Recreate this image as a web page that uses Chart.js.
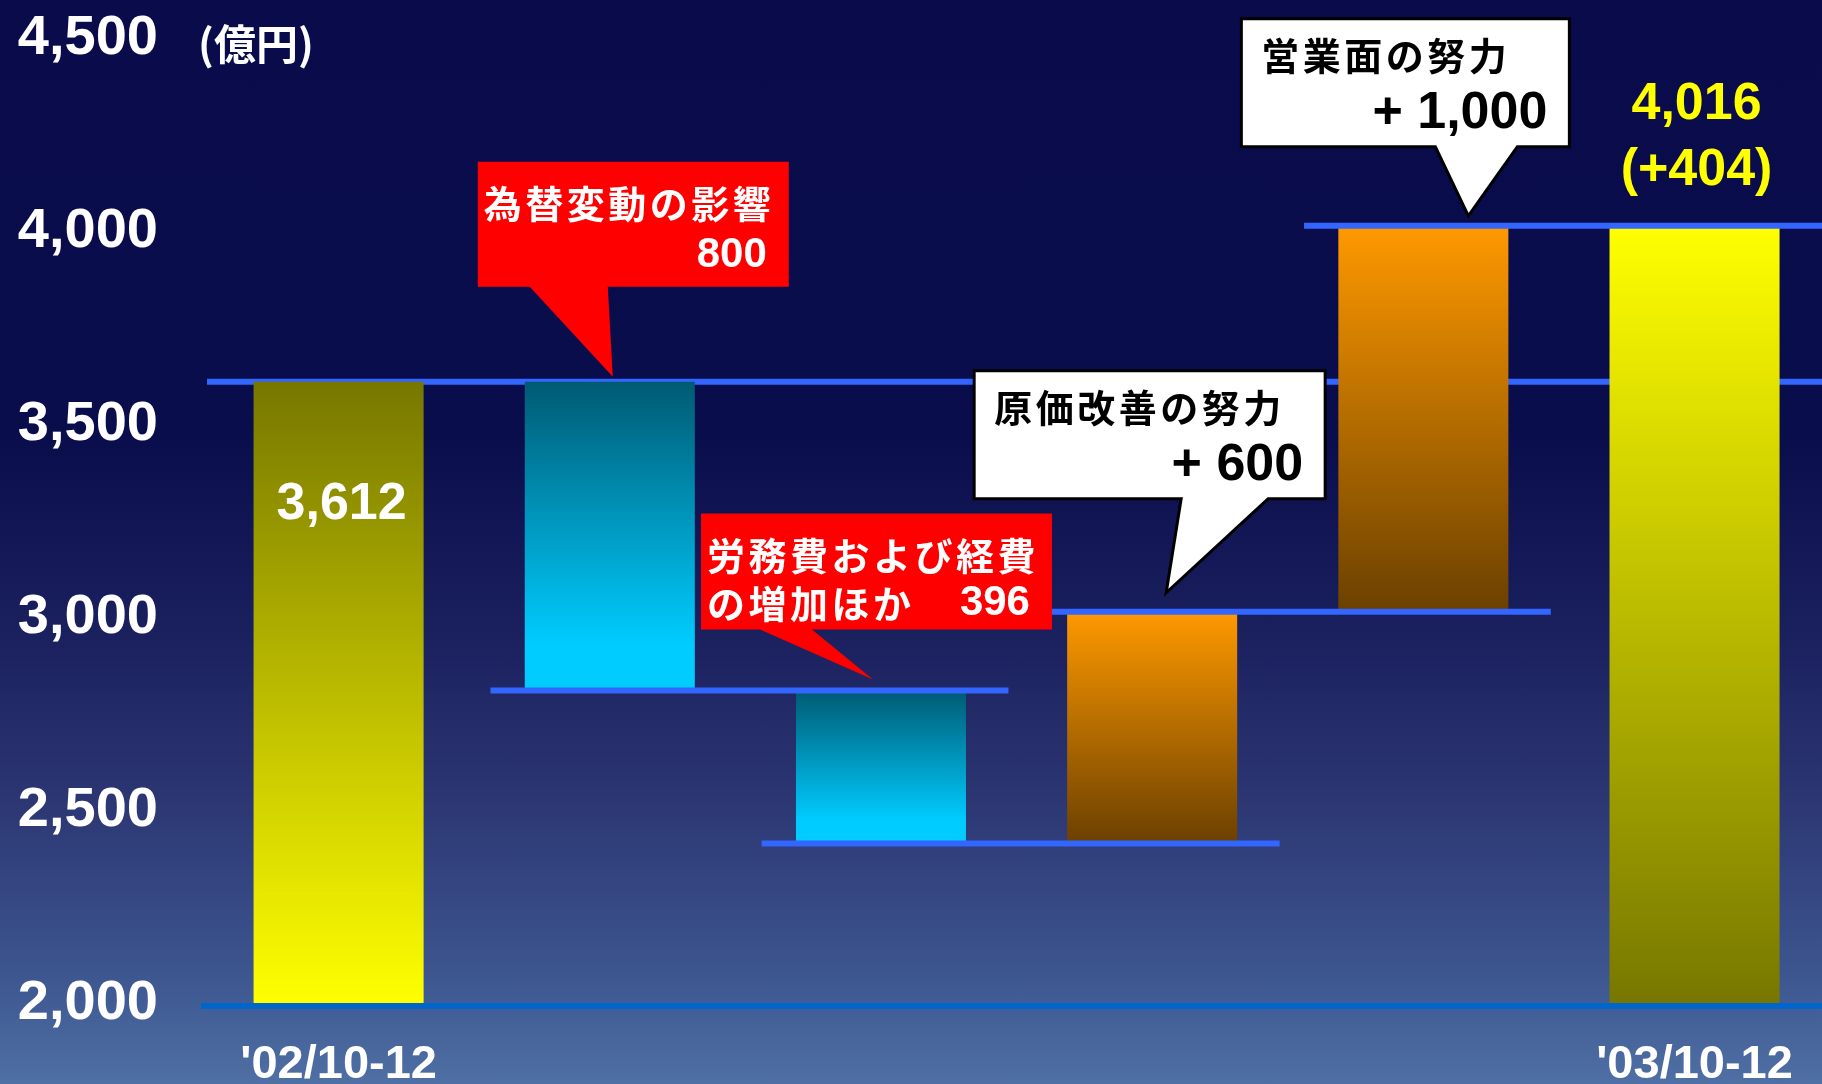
<!DOCTYPE html>
<html lang="ja">
<head>
<meta charset="utf-8">
<title>営業利益の増減要因</title>
<script src="https://cdn.jsdelivr.net/npm/chart.js@4.4.1/dist/chart.umd.min.js"></script>
<style>
  html, body { margin: 0; padding: 0; overflow: hidden; }
  body {
    width: 1822px;
    height: 1084px;
    background: linear-gradient(to bottom, #090b4a 0%, #0a0d4c 40%, #1a1f5e 58%, #2b3572 73%, #3d5690 90%, #4f70a4 100%);
  }
  #wrap { position: relative; width: 1822px; height: 1084px; }
</style>
</head>
<body>
<div id="wrap"><canvas id="chart_waterfall"></canvas></div>
<script>
const canvasWaterfall = document.getElementById('chart_waterfall');

/* DATA */
const CATEGORIES = ["'02/10-12", '為替変動の影響', '労務費および経費の増加ほか', '原価改善の努力', '営業面の努力', "'03/10-12"];
const BAR_FROM = [2000, 3612, 2812, 2416, 3016, 2000];
const BAR_TO   = [3612, 2812, 2416, 3016, 4016, 4016];
const Y_TICKS = [2000, 2500, 3000, 3500, 4000, 4500];
const X_TICKS = [0, 5];
const CALLOUT_TITLES = [null, ['為替変動の影響'], ['労務費および経費', 'の増加ほか'], ['原価改善の努力'], ['営業面の努力'], null];
const UNIT_LABEL = '(億円)';

/* STYLE */
const NUM_FONT = '"Liberation Sans", Arial, sans-serif';
const JP_FONT = '"Noto Sans CJK JP", "Noto Sans CJK SC", sans-serif';
const LINE_BLUE = '#3366ff';
const BASE_BLUE = '#0066cc';

const GRADIENTS = [
    [[0, '#777700'], [1, '#ffff00']],
    [[0, '#005a73'], [0.85, '#00ccff'], [1, '#00ccff']],
    [[0, '#005a73'], [0.85, '#00ccff'], [1, '#00ccff']],
    [[0, '#ff9900'], [1, '#6b4000']],
    [[0, '#ff9900'], [1, '#6b4000']],
    [[0, '#ffff00'], [1, '#777700']]
];

// callout box geometry, relative to the top centre of its bar
const CALLOUT_BOX = {
    1: {l: -132, r: 179, t: -220, b: -95, b1: -80, b2: -2, px: 3, py: -5, fill: '#ff0000', stroke: null, text: '#ffffff'},
    2: {l: -180, r: 171, t: -177, b: -61, b1: -121, b2: -69, px: -8, py: -11, fill: '#ff0000', stroke: null, text: '#ffffff'},
    3: {l: -178, r: 173, t: -241, b: -113, b1: 29, b2: 116, px: 14, py: -19, fill: '#ffffff', stroke: '#000000', text: '#000000'},
    4: {l: -182, r: 146, t: -207, b: -79, b1: 12, b2: 94, px: 45, py: -10, fill: '#ffffff', stroke: '#000000', text: '#000000'}
};

const fmt = (v) => v.toLocaleString('en-US');

function sharedLevel(i) {
    const a = [BAR_FROM[i], BAR_TO[i]];
    const b = [BAR_FROM[i + 1], BAR_TO[i + 1]];
    return a.find(v => v !== 2000 && b.includes(v));
}

function hline(ctx, x1, x2, y) {
    ctx.beginPath();
    ctx.moveTo(x1, y);
    ctx.lineTo(x2, y);
    ctx.stroke();
}

function drawCallout(ctx, tx, ty, g) {
    ctx.beginPath();
    ctx.moveTo(tx + g.l, ty + g.t);
    ctx.lineTo(tx + g.r, ty + g.t);
    ctx.lineTo(tx + g.r, ty + g.b);
    ctx.lineTo(tx + g.b2, ty + g.b);
    ctx.lineTo(tx + g.px, ty + g.py);
    ctx.lineTo(tx + g.b1, ty + g.b);
    ctx.lineTo(tx + g.l, ty + g.b);
    ctx.closePath();
    ctx.fillStyle = g.fill;
    ctx.fill();
    if (g.stroke) {
        ctx.lineWidth = 3;
        ctx.strokeStyle = g.stroke;
        ctx.stroke();
    }
}

const waterfallDecor = {
    id: 'waterfallDecor',
    beforeDatasetsDraw(chart) {
        const {ctx, chartArea, scales: {y}} = chart;
        ctx.save();
        ctx.lineWidth = 6;
        ctx.strokeStyle = LINE_BLUE;
        hline(ctx, chartArea.left + 4, chartArea.right, y.getPixelForValue(sharedLevel(0)));
        ctx.restore();
    },
    afterDatasetsDraw(chart) {
        const {ctx, chartArea, scales: {x, y}} = chart;
        ctx.save();

        /* connector lines */
        ctx.lineWidth = 6;
        ctx.strokeStyle = LINE_BLUE;
        for (let i = 1; i < CATEGORIES.length - 1; i++) {
            const py = y.getPixelForValue(sharedLevel(i));
            const x1 = x.getPixelForValue(i - 0.44);
            const x2 = i === CATEGORIES.length - 2 ? chartArea.right : x.getPixelForValue(i + 1.47);
            hline(ctx, x1, x2, py);
        }
        ctx.strokeStyle = BASE_BLUE;
        hline(ctx, chartArea.left - 2, chartArea.right, y.getPixelForValue(y.min) + 2);

        /* unit */
        ctx.fillStyle = '#ffffff';
        ctx.font = 'bold 42px ' + JP_FONT;
        ctx.textAlign = 'left';
        ctx.textBaseline = 'middle';
        ctx.fillText(UNIT_LABEL, 198, 44);

        /* start / end values */
        const last = CATEGORIES.length - 1;
        ctx.font = 'bold 52px ' + NUM_FONT;
        ctx.textAlign = 'center';
        ctx.fillText(fmt(BAR_TO[0]), x.getPixelForValue(0) + 3, y.getPixelForValue(BAR_TO[0]) + 123);
        const topEnd = y.getPixelForValue(BAR_TO[last]);
        const diff = BAR_TO[last] - BAR_TO[0];
        ctx.fillStyle = '#ffff00';
        ctx.fillText(fmt(BAR_TO[last]), x.getPixelForValue(last) + 2, topEnd - 121);
        ctx.fillText('(' + (diff >= 0 ? '+' : '') + fmt(diff) + ')', x.getPixelForValue(last) + 2, topEnd - 55);

        /* callouts */
        Object.keys(CALLOUT_BOX).forEach(k => {
            const i = Number(k);
            const g = CALLOUT_BOX[i];
            const tx = x.getPixelForValue(i);
            const ty = y.getPixelForValue(Math.max(BAR_FROM[i], BAR_TO[i]));
            drawCallout(ctx, tx, ty, g);

            const change = BAR_TO[i] - BAR_FROM[i];
            const changeText = change > 0 ? '+ ' + fmt(change) : fmt(-change);
            const titles = CALLOUT_TITLES[i];
            const left = tx + g.l + (g.stroke ? 20 : 6);
            const top = ty + g.t;
            const titleY = g.stroke ? 37 : 42;
            ctx.fillStyle = g.text;
            ctx.textBaseline = 'middle';
            ctx.textAlign = 'left';
            ctx.font = 'bold 38px ' + JP_FONT;
            ctx.letterSpacing = '3.5px';
            titles.forEach((t, n) => ctx.fillText(t, left, top + titleY + n * 48));
            ctx.letterSpacing = '0px';
            ctx.textAlign = 'right';
            if (g.stroke) {
                ctx.font = 'bold 52px ' + NUM_FONT;
                ctx.fillText(changeText, tx + g.r - 22, top + 95);
            } else {
                ctx.font = 'bold 42px ' + NUM_FONT;
                ctx.fillText(changeText, tx + g.r - 22, top + 42 + (titles.length === 1 ? 52 : 48 * (titles.length - 1)));
            }
        });
        ctx.restore();
    }
};

/* Waterfall Chart */
var chartWaterfall = new Chart(canvasWaterfall, {
    type: 'bar',
    data: {
        datasets: [{
            label: '営業利益',
            data: CATEGORIES.map((c, i) => ({x: i, y: [BAR_FROM[i], BAR_TO[i]]})),
            backgroundColor: (c) => {
                const y = c.chart.scales.y;
                if (!y || c.dataIndex === undefined) return '#888800';
                const i = c.dataIndex;
                const top = y.getPixelForValue(Math.max(BAR_FROM[i], BAR_TO[i]));
                const bottom = y.getPixelForValue(Math.min(BAR_FROM[i], BAR_TO[i]));
                if (!isFinite(top) || !isFinite(bottom) || top === bottom) return GRADIENTS[i][0][1];
                const g = c.chart.ctx.createLinearGradient(0, top, 0, bottom);
                GRADIENTS[i].forEach(s => g.addColorStop(s[0], s[1]));
                return g;
            },
            borderWidth: 0,
            categoryPercentage: 1,
            barPercentage: 0.627
        }]
    },
    options: {
        responsive: true,
        maintainAspectRatio: false,
        animation: false,
        layout: {padding: {top: 39, left: 0, right: 0, bottom: 0}},
        plugins: {
            legend: {display: false},
            tooltip: {enabled: false}
        },
        scales: {
            x: {
                type: 'linear',
                offset: false,
                bounds: 'data',
                min: -0.5,
                max: 5.47,
                grid: {display: false, drawTicks: false, offset: false},
                border: {display: false},
                afterDataLimits: (s) => { s.min = -0.5; s.max = 5.47; },
                afterBuildTicks: (s) => { s.ticks = X_TICKS.map(v => ({value: v})); },
                afterFit: (s) => { s.height = 80; s.paddingLeft = 0; s.paddingRight = 0; },
                ticks: {
                    color: '#ffffff',
                    padding: 33,
                    maxRotation: 0,
                    autoSkip: false,
                    font: {family: NUM_FONT, size: 47, weight: 'bold'},
                    callback: (v) => CATEGORIES[v] || ''
                }
            },
            y: {
                min: 2000,
                max: 4500,
                grid: {display: false, drawTicks: false},
                border: {display: false},
                afterBuildTicks: (s) => { s.ticks = Y_TICKS.map(v => ({value: v})); },
                afterFit: (s) => { s.width = 203; s.paddingTop = 0; s.paddingBottom = 0; },
                ticks: {
                    color: '#ffffff',
                    padding: 45,
                    font: {family: NUM_FONT, size: 56, weight: 'bold'},
                    callback: (v) => fmt(v)
                }
            }
        }
    },
    plugins: [waterfallDecor]
});
</script>
</body>
</html>
